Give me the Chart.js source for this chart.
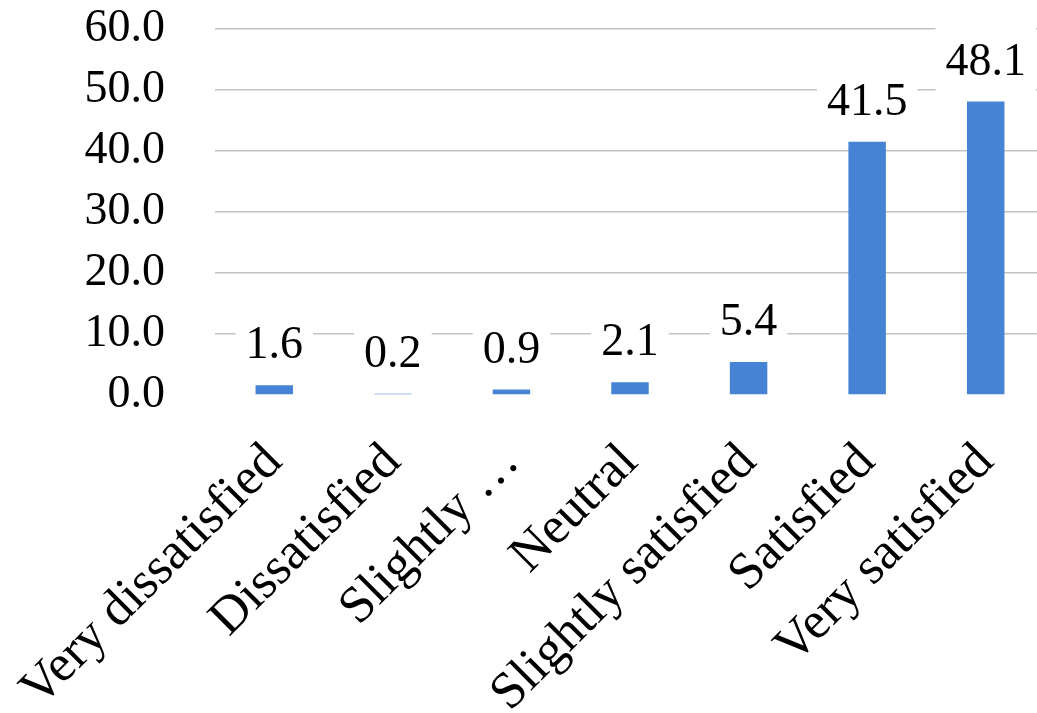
<!DOCTYPE html>
<html>
<head>
<meta charset="utf-8">
<script src="https://cdn.jsdelivr.net/npm/chart.js@4/dist/chart.umd.min.js"></script>
<style>
html, body { margin: 0; padding: 0; overflow: hidden; background: #fff; }
#wrap { position: relative; width: 1045px; height: 713px; }
</style>
</head>
<body>
<div id="wrap"><canvas id="c"></canvas></div>
<script>
const categories = ["Very dissatisfied", "Dissatisfied", "Slightly …", "Neutral", "Slightly satisfied", "Satisfied", "Very satisfied"];
const values = [1.6, 0.2, 0.9, 2.1, 5.4, 41.5, 48.1];
const yMin = 0, yMax = 60, yStep = 10;

const FONT = "'Liberation Serif', 'Times New Roman', serif";
const FSIZE = 46;
const XFSIZE = 52;

const dataLabels = {
  id: 'dataLabels',
  afterDatasetsDraw(chart) {
    const ctx = chart.ctx;
    const meta = chart.getDatasetMeta(0);
    ctx.save();
    ctx.font = FSIZE + 'px ' + FONT;
    ctx.textAlign = 'center';
    ctx.textBaseline = 'alphabetic';
    meta.data.forEach((bar, i) => {
      const txt = values[i].toFixed(1);
      const w = ctx.measureText(txt).width;
      const base = bar.y - 27;
      ctx.fillStyle = '#ffffff';
      ctx.fillRect(bar.x - w / 2 - 10, base - 48, w + 20, 65);
      ctx.fillStyle = '#000000';
      ctx.fillText(txt, bar.x, base);
    });
    ctx.restore();
  }
};

new Chart(document.getElementById('c'), {
  type: 'bar',
  data: {
    labels: categories,
    datasets: [{
      data: values,
      backgroundColor: '#4683d4',
      borderWidth: 0,
      barPercentage: 0.316,
      categoryPercentage: 1.0
    }]
  },
  options: {
    responsive: true,
    maintainAspectRatio: false,
    animation: false,
    layout: { padding: { top: 29, left: 0, right: 0, bottom: 0 } },
    plugins: { legend: { display: false }, tooltip: { enabled: false } },
    scales: {
      x: {
        grid: { display: false, drawTicks: false },
        border: { display: false },
        ticks: {
          autoSkip: false, minRotation: 45, maxRotation: 45,
          color: '#000', font: { family: FONT, size: XFSIZE }, padding: 37
        },
        afterFit(s) { s.height = 318; s.paddingLeft = 0; s.paddingRight = 0; }
      },
      y: {
        min: yMin, max: yMax,
        grid: {
          drawTicks: false, lineWidth: 1.5,
          color: (c) => (c.tick && c.tick.value === 0) ? 'rgba(0,0,0,0)' : '#c3c3c3'
        },
        border: { display: false },
        ticks: {
          autoSkip: false, stepSize: yStep, padding: 50, color: '#000',
          font: { family: FONT, size: FSIZE },
          callback: (v) => Number(v).toFixed(1)
        },
        afterFit(s) { s.width = 215; s.paddingTop = 0; s.paddingBottom = 0; }
      }
    }
  },
  plugins: [dataLabels]
});
</script>
</body>
</html>
